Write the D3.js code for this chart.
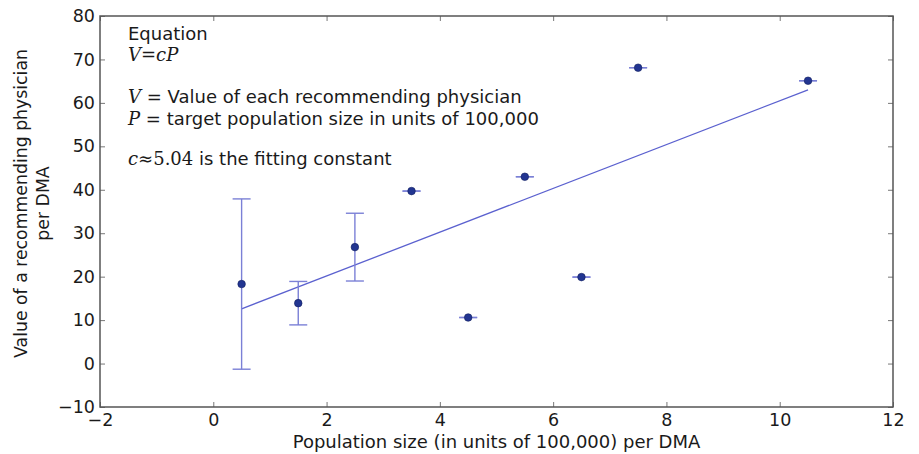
<!DOCTYPE html>
<html>
<head>
<meta charset="utf-8">
<script src="https://cdn.jsdelivr.net/npm/d3@7/dist/d3.min.js"></script>
<style>
  html, body { margin: 0; padding: 0; background: #fff; }
  svg { display: block; }
  text { font-family: "DejaVu Sans", sans-serif; fill: #1a1a1a; }
  .math { font-family: "DejaVu Serif", "Liberation Serif", serif; font-style: italic; }
</style>
</head>
<body>
<svg id="chart" width="919" height="454"></svg>
<script>
// Population size per DMA (units of 100,000)
const population = [0.5, 1.5, 2.5, 3.5, 4.5, 5.5, 6.5, 7.5, 10.5];
// Value of a recommending physician per DMA
const value = [18.3, 13.9, 26.8, 39.7, 10.6, 43.0, 19.9, 68.1, 65.1];
// Symmetric error on each value
const valueErr = [19.6, 5.0, 7.8, 0, 0, 0, 0, 0, 0];
// Fitted line end points
const fitX = [0.5, 10.5];
const fitY = [12.6, 63.0];
// Axis ticks
const xTicks = [-2, 0, 2, 4, 6, 8, 10, 12];
const yTicks = [-10, 0, 10, 20, 30, 40, 50, 60, 70, 80];

const svg = d3.select("#chart");
const margin = { left: 100, right: 26, top: 16, bottom: 47 };
const W = 919, H = 454;

const x = d3.scaleLinear().domain([-2, 12]).range([margin.left, W - margin.right]);
const y = d3.scaleLinear().domain([-10, 80]).range([H - margin.bottom, margin.top]);

const markColor = "#223591";
const errColor = "#7b80d6";
const fitColor = "#5b61cf";
const frameColor = "#555";

// Tick marks point inward on all four sides
const tickLen = 5;
const gAxes = svg.append("g");
gAxes.append("g")
  .attr("transform", `translate(0,${y(-10)})`)
  .call(d3.axisBottom(x).tickValues(xTicks).tickSizeInner(-tickLen).tickSizeOuter(0).tickPadding(7)
    .tickFormat(d => d < 0 ? "\u2212" + Math.abs(d) : d));
gAxes.append("g")
  .attr("transform", `translate(0,${y(80)})`)
  .call(d3.axisTop(x).tickValues(xTicks).tickSizeInner(-tickLen).tickSizeOuter(0).tickFormat(""));
gAxes.append("g")
  .attr("transform", `translate(${x(-2)},0)`)
  .call(d3.axisLeft(y).tickValues(yTicks).tickSizeInner(-tickLen).tickSizeOuter(0).tickPadding(5)
    .tickFormat(d => d < 0 ? "\u2212" + Math.abs(d) : d));
gAxes.append("g")
  .attr("transform", `translate(${x(12)},0)`)
  .call(d3.axisRight(y).tickValues(yTicks).tickSizeInner(-tickLen).tickSizeOuter(0).tickFormat(""));
gAxes.selectAll(".domain").remove();
gAxes.selectAll(".tick line").attr("stroke", "#777").attr("stroke-width", 1);
gAxes.selectAll(".tick text").attr("font-size", 17.5).attr("fill", "#1a1a1a")
  .attr("font-family", "DejaVu Sans, sans-serif");

// Plot frame
svg.append("rect")
  .attr("x", x(-2)).attr("y", y(80))
  .attr("width", x(12) - x(-2)).attr("height", y(-10) - y(80))
  .attr("fill", "none").attr("stroke", frameColor).attr("stroke-width", 1.5);

// Fitted line
svg.append("line")
  .attr("x1", x(fitX[0])).attr("y1", y(fitY[0]))
  .attr("x2", x(fitX[1])).attr("y2", y(fitY[1]))
  .attr("stroke", fitColor).attr("stroke-width", 1.3);

// Error bars with caps
const capHalf = 9;
const eb = svg.append("g").attr("stroke", errColor).attr("stroke-width", 1.4);
population.forEach((p, i) => {
  const lo = value[i] - valueErr[i], hi = value[i] + valueErr[i];
  if (valueErr[i] > 0) {
    eb.append("line").attr("x1", x(p)).attr("x2", x(p)).attr("y1", y(lo)).attr("y2", y(hi));
  }
  [lo, hi].forEach(v => {
    eb.append("line").attr("x1", x(p) - capHalf).attr("x2", x(p) + capHalf)
      .attr("y1", y(v)).attr("y2", y(v));
  });
});

// Data points
svg.append("g").selectAll("circle")
  .data(population)
  .join("circle")
  .attr("cx", d => x(d))
  .attr("cy", (d, i) => y(value[i]))
  .attr("r", 3.8)
  .attr("fill", markColor)
  .attr("stroke", "#0f1c5e").attr("stroke-width", 0.6);

// Axis titles
svg.append("text")
  .attr("x", (x(-2) + x(12)) / 2).attr("y", 448)
  .attr("text-anchor", "middle").attr("font-size", 18)
  .text("Population size (in units of 100,000) per DMA");

const yt = svg.append("text")
  .attr("transform", `translate(0,${(y(-10) + y(80)) / 2 - 8}) rotate(-90)`)
  .attr("text-anchor", "middle").attr("font-size", 17.3);
yt.append("tspan").attr("x", 0).attr("y", 27).text("Value of a recommending physician");
yt.append("tspan").attr("x", 0).attr("y", 49).text("per DMA");

// Equation annotation
const ann = svg.append("g").attr("font-size", 18);
ann.append("text").attr("x", 128).attr("y", 40).text("Equation");
ann.append("text").attr("x", 128).attr("y", 61).attr("class", "math").attr("font-size", 18)
  .text("V=cP");

const l1 = ann.append("text").attr("x", 128).attr("y", 103);
l1.append("tspan").attr("class", "math").text("V");
l1.append("tspan").text(" = Value of each recommending physician");

const l2 = ann.append("text").attr("x", 128).attr("y", 125);
l2.append("tspan").attr("class", "math").text("P");
l2.append("tspan").text(" = target population size in units of 100,000");

const l3 = ann.append("text").attr("x", 128).attr("y", 165);
l3.append("tspan").attr("class", "math").text("c");
l3.append("tspan").attr("font-family", "DejaVu Serif, serif").text("\u2248");
l3.append("tspan").attr("font-family", "DejaVu Serif, serif").text("5.04");
l3.append("tspan").text(" is the fitting constant");
</script>
</body>
</html>
